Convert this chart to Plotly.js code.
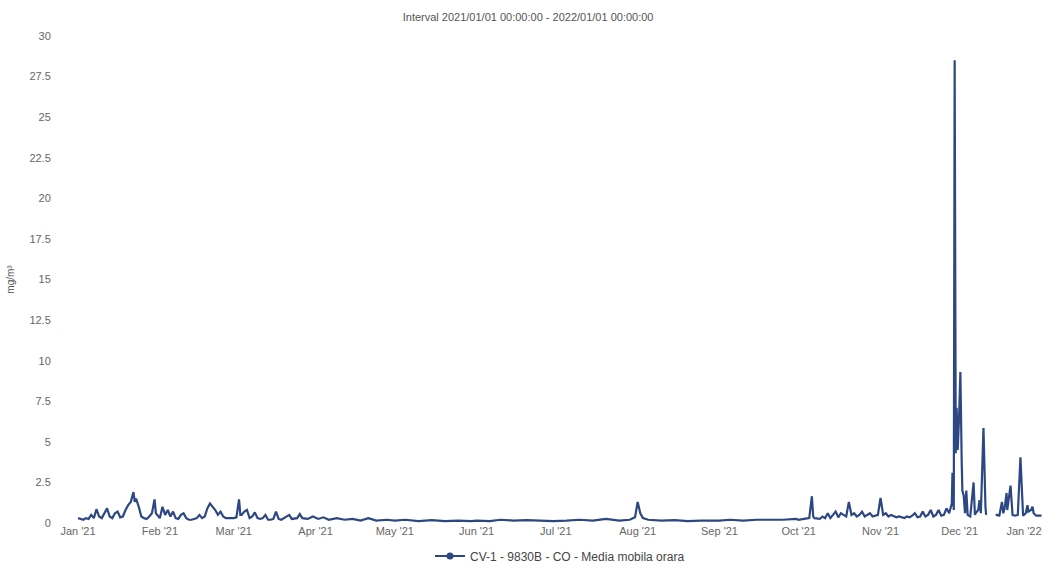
<!DOCTYPE html>
<html>
<head>
<meta charset="utf-8">
<script src="https://cdn.plot.ly/plotly-3.0.1.min.js"></script>
<style>html,body{margin:0;padding:0;background:#fff;}#chart{width:1052px;height:564px;}</style>
</head>
<body>
<div id="chart"></div>
<script>
const titleText = "Interval 2021/01/01 00:00:00 - 2022/01/01 00:00:00";
const yAxisTitle = "mg/m³";
const seriesName = "CV-1 - 9830B - CO - Media mobila orara";
const yTickVals = [0, 2.5, 5, 7.5, 10, 12.5, 15, 17.5, 20, 22.5, 25, 27.5, 30];
const yTickText = ["0", "2.5", "5", "7.5", "10", "12.5", "15", "17.5", "20", "22.5", "25", "27.5", "30"];
const xTickVals = ["2021-01-01","2021-02-01","2021-03-01","2021-04-01","2021-05-01","2021-06-01",
                   "2021-07-01","2021-08-01","2021-09-01","2021-10-01","2021-11-01","2021-12-01"];
const xTickText = ["Jan '21","Feb '21","Mar '21","Apr '21","May '21","Jun '21",
                   "Jul '21","Aug '21","Sep '21","Oct '21","Nov '21","Dec '21"];
const xEndTickVals = ["2022-01-01"];
const xEndTickText = ["Jan '22"];

const times = [
"2021-01-01","2021-01-02","2021-01-03","2021-01-04","2021-01-05","2021-01-06","2021-01-07","2021-01-08","2021-01-09","2021-01-10",
"2021-01-11","2021-01-12","2021-01-13","2021-01-14","2021-01-15","2021-01-16","2021-01-17","2021-01-18","2021-01-19","2021-01-20",
"2021-01-21","2021-01-21 12:00","2021-01-22","2021-01-22 12:00","2021-01-23","2021-01-24","2021-01-25","2021-01-26","2021-01-27","2021-01-28",
"2021-01-29","2021-01-30","2021-01-30 12:00","2021-01-31",
"2021-02-01","2021-02-02","2021-02-03","2021-02-04","2021-02-05","2021-02-06","2021-02-07","2021-02-08","2021-02-09","2021-02-10",
"2021-02-11","2021-02-12","2021-02-13","2021-02-14","2021-02-15","2021-02-16","2021-02-17","2021-02-18","2021-02-19","2021-02-20",
"2021-02-21","2021-02-22","2021-02-23","2021-02-24","2021-02-25","2021-02-26","2021-02-27","2021-02-28",
"2021-03-01","2021-03-02","2021-03-03","2021-03-03 12:00","2021-03-04","2021-03-05","2021-03-06","2021-03-07","2021-03-08","2021-03-09",
"2021-03-10","2021-03-11","2021-03-12","2021-03-13","2021-03-14","2021-03-15","2021-03-16","2021-03-17","2021-03-18","2021-03-19",
"2021-03-20","2021-03-22","2021-03-23","2021-03-25","2021-03-26","2021-03-27","2021-03-29","2021-03-31",
"2021-04-02","2021-04-04","2021-04-06","2021-04-09","2021-04-12","2021-04-15","2021-04-18","2021-04-21","2021-04-24","2021-04-28",
"2021-05-01","2021-05-05","2021-05-10","2021-05-15","2021-05-20","2021-05-25","2021-05-30",
"2021-06-01","2021-06-06","2021-06-10","2021-06-15","2021-06-20","2021-06-25","2021-06-30",
"2021-07-05","2021-07-10","2021-07-15","2021-07-20","2021-07-25","2021-07-29","2021-07-31","2021-08-01","2021-08-02","2021-08-03","2021-08-05",
"2021-08-10","2021-08-15","2021-08-20","2021-08-25",
"2021-09-01","2021-09-05","2021-09-10","2021-09-15","2021-09-20","2021-09-25","2021-09-30",
"2021-10-01","2021-10-03","2021-10-05","2021-10-06","2021-10-06 12:00","2021-10-07","2021-10-09","2021-10-10","2021-10-11","2021-10-12",
"2021-10-13","2021-10-14","2021-10-15","2021-10-16","2021-10-17","2021-10-18","2021-10-19","2021-10-20","2021-10-21","2021-10-22",
"2021-10-23","2021-10-24","2021-10-25","2021-10-26","2021-10-27","2021-10-28","2021-10-29","2021-10-30","2021-10-31",
"2021-11-01","2021-11-02","2021-11-03","2021-11-04","2021-11-05","2021-11-06","2021-11-07","2021-11-08","2021-11-09","2021-11-10",
"2021-11-11","2021-11-12","2021-11-13","2021-11-14","2021-11-15","2021-11-16","2021-11-17","2021-11-18","2021-11-19","2021-11-20",
"2021-11-21","2021-11-22","2021-11-23","2021-11-24","2021-11-25","2021-11-26","2021-11-27","2021-11-28","2021-11-28 06:00","2021-11-28 18:00",
"2021-11-29 02:00","2021-11-29 12:00","2021-11-29 20:00","2021-11-30 06:00","2021-11-30 18:00","2021-12-01 06:00","2021-12-01 18:00","2021-12-02","2021-12-02 12:00","2021-12-03",
"2021-12-03 12:00","2021-12-04","2021-12-05","2021-12-06 06:00","2021-12-06 18:00","2021-12-07","2021-12-08","2021-12-08 12:00","2021-12-09","2021-12-10",
"2021-12-10 18:00","2021-12-11","2021-12-12",
"2021-12-14 18:00","2021-12-15","2021-12-16","2021-12-17","2021-12-17 12:00","2021-12-18","2021-12-18 18:00","2021-12-19","2021-12-20 06:00","2021-12-20 18:00",
"2021-12-21","2021-12-22","2021-12-23","2021-12-24","2021-12-24 18:00","2021-12-25","2021-12-26","2021-12-26 16:00","2021-12-27","2021-12-28",
"2021-12-28 14:00","2021-12-29","2021-12-30","2021-12-31","2022-01-01"
];

const values = [
0.3,0.25,0.2,0.3,0.25,0.5,0.3,0.85,0.4,0.3,
0.6,0.9,0.4,0.3,0.6,0.7,0.35,0.4,0.8,1.1,
1.3,1.6,1.9,1.3,1.5,1.0,0.4,0.3,0.25,0.4,
0.6,1.45,0.6,0.5,
0.3,1.0,0.5,0.8,0.4,0.7,0.3,0.25,0.5,0.6,
0.3,0.2,0.2,0.25,0.3,0.5,0.3,0.4,0.9,1.2,
1.0,0.8,0.5,0.7,0.4,0.3,0.3,0.3,
0.3,0.35,1.45,0.5,0.5,0.7,0.8,0.3,0.4,0.65,
0.3,0.25,0.3,0.5,0.2,0.2,0.25,0.7,0.25,0.2,
0.3,0.5,0.25,0.3,0.55,0.3,0.25,0.4,
0.25,0.35,0.2,0.3,0.2,0.25,0.15,0.3,0.15,0.2,
0.15,0.2,0.12,0.18,0.12,0.15,0.12,
0.15,0.12,0.2,0.15,0.18,0.15,0.12,
0.15,0.2,0.15,0.25,0.15,0.2,0.35,1.3,0.6,0.3,0.2,
0.15,0.18,0.12,0.15,
0.15,0.2,0.15,0.2,0.18,0.2,0.25,
0.2,0.25,0.3,1.65,0.4,0.3,0.25,0.4,0.3,0.6,
0.3,0.5,0.7,0.35,0.6,0.5,0.4,1.3,0.5,0.6,
0.4,0.5,0.7,0.4,0.5,0.6,0.4,0.45,0.5,
1.55,0.5,0.6,0.4,0.5,0.4,0.35,0.4,0.35,0.3,
0.4,0.35,0.45,0.6,0.35,0.4,0.7,0.4,0.5,0.8,
0.4,0.5,0.8,0.45,0.5,0.9,0.6,1.2,3.1,0.8,
28.5,4.3,7.1,4.5,6.5,9.3,3.8,2.0,1.7,0.6,
2.0,0.5,0.4,2.5,0.5,0.6,0.8,1.4,0.6,5.85,
1.0,0.5,null,
0.45,0.5,0.45,1.3,0.6,0.9,1.85,0.8,2.3,0.6,
0.5,0.45,0.5,4.05,0.5,0.45,0.6,1.1,0.7,0.8,
1.0,0.6,0.45,0.45,0.45
];

const lineColor = "#2d4783";
const xRange = ["2021-01-01", "2022-01-01 04:00"];

const traces = [
  {
    x: times, y: values, type: "scatter", mode: "lines",
    line: {color: lineColor, width: 2.2}, connectgaps: false,
    showlegend: false, name: seriesName
  },
  {
    x: [null], y: [null], xaxis: "x2", yaxis: "y", type: "scatter", mode: "lines+markers",
    line: {color: lineColor, width: 2}, marker: {color: lineColor, size: 7},
    name: seriesName, showlegend: true
  }
];

const layout = {
  width: 1052, height: 564,
  margin: {l: 78, r: 10, t: 36, b: 41, autoexpand: false},
  paper_bgcolor: "#ffffff", plot_bgcolor: "#ffffff",
  font: {family: "Liberation Sans, Arial, sans-serif", size: 11, color: "#666666"},
  title: {text: titleText, x: 0.502, xanchor: "center", y: 0.97, yanchor: "middle",
          font: {size: 11, color: "#555555"}},
  xaxis: {
    type: "date", range: xRange,
    tickmode: "array", tickvals: xTickVals, ticktext: xTickText,
    showgrid: false, zeroline: false, showline: false,
    ticks: "", tickfont: {size: 11, color: "#666666"}
  },
  xaxis2: {
    type: "date", range: xRange, overlaying: "x", anchor: "y", side: "bottom",
    tickmode: "array", tickvals: xEndTickVals, ticktext: xEndTickText,
    ticklabelposition: "outside left",
    showgrid: false, zeroline: false, showline: false,
    ticks: "", tickfont: {size: 11, color: "#666666"}
  },
  yaxis: {
    range: [0, 30], tickmode: "array", tickvals: yTickVals, ticktext: yTickText,
    showgrid: false, zeroline: false, showline: false,
    ticks: "outside", ticklen: 24, tickcolor: "rgba(0,0,0,0)",
    tickfont: {size: 11, color: "#666666"},
    title: {text: yAxisTitle, standoff: 12, font: {size: 10, color: "#555555"}}
  },
  legend: {orientation: "h", x: 0.5, xanchor: "center", yref: "container", y: 0.014, yanchor: "middle",
           font: {size: 12, color: "#444444"}, bgcolor: "rgba(0,0,0,0)"},
  showlegend: true
};

Plotly.newPlot("chart", traces, layout, {displayModeBar: false, staticPlot: true});
</script>
</body>
</html>
